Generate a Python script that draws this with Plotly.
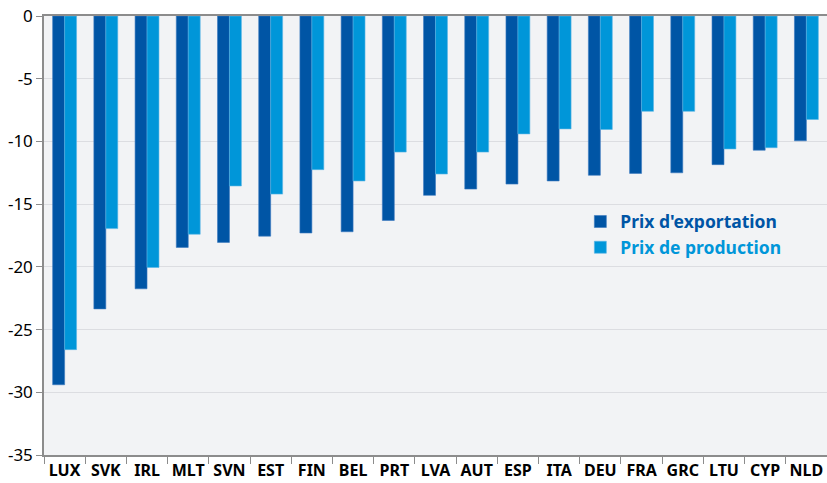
import plotly.graph_objects as go

countries = ["LUX", "SVK", "IRL", "MLT", "SVN", "EST", "FIN", "BEL", "PRT", "LVA",
             "AUT", "ESP", "ITA", "DEU", "FRA", "GRC", "LTU", "CYP", "NLD"]
export_prices = [-29.4, -23.35, -21.75, -18.45, -18.05, -17.55, -17.3, -17.2, -16.3, -14.3,
                 -13.8, -13.4, -13.15, -12.7, -12.55, -12.5, -11.85, -10.7, -9.95]
production_prices = [-26.6, -16.95, -20.05, -17.4, -13.55, -14.2, -12.25, -13.15, -10.85, -12.6,
                     -10.85, -9.4, -9.0, -9.05, -7.6, -7.6, -10.6, -10.5, -8.25]
y_ticks = [0, -5, -10, -15, -20, -25, -30, -35]

DARK = "#0055a5"
LIGHT = "#0096d9"
FONT = "Noto Sans"

fig = go.Figure()
fig.add_trace(go.Bar(
    x=countries, y=export_prices,
    name="<b><span style='color:%s'>Prix d'exportation</span></b>" % DARK,
    marker=dict(color=DARK, line=dict(color="#3a78c0", width=0.6)),
))
fig.add_trace(go.Bar(
    x=countries, y=production_prices,
    name="<b><span style='color:%s'>Prix de production</span></b>" % LIGHT,
    marker=dict(color=LIGHT, line=dict(color="#5ab6e6", width=0.6)),
))

fig.update_layout(
    width=827, height=483,
    margin=dict(l=44, r=0, t=16, b=28),
    paper_bgcolor="white",
    plot_bgcolor="#f2f3f5",
    barmode="group",
    bargap=0.42,
    bargroupgap=0,
    font=dict(family=FONT, size=15, color="black"),
    showlegend=True,
    legend=dict(
        x=0.685, y=0.502, xanchor="left", yanchor="middle",
        bgcolor="rgba(0,0,0,0)",
        font=dict(family=FONT, size=17.5),
        tracegroupgap=0,
    ),
    xaxis=dict(
        automargin=False,
        tickangle=0,
        showline=True, linecolor="#8c8c8c", linewidth=1.5, mirror=True,
        ticks="outside", tickson="boundaries", ticklen=7, tickcolor="#8c8c8c",
        tickfont=dict(family=FONT, size=16, color="black", weight="bold"),
        showgrid=False,
    ),
    yaxis=dict(
        automargin=False,
        range=[-35, 0],
        tickvals=y_ticks,
        ticktext=[str(v) for v in y_ticks],
        showline=True, linecolor="#8c8c8c", linewidth=1.5,
        ticks="outside", ticklen=6, tickcolor="#8c8c8c",
        showgrid=True, gridcolor="#dcdde1", gridwidth=1,
        zeroline=False,
        tickfont=dict(family=FONT, size=17, color="black"),
    ),
)

fig.write_html(
    "out.html",
    config={"displayModeBar": False},
    post_script="document.body.style.margin='0';document.body.style.overflow='hidden';",
)
